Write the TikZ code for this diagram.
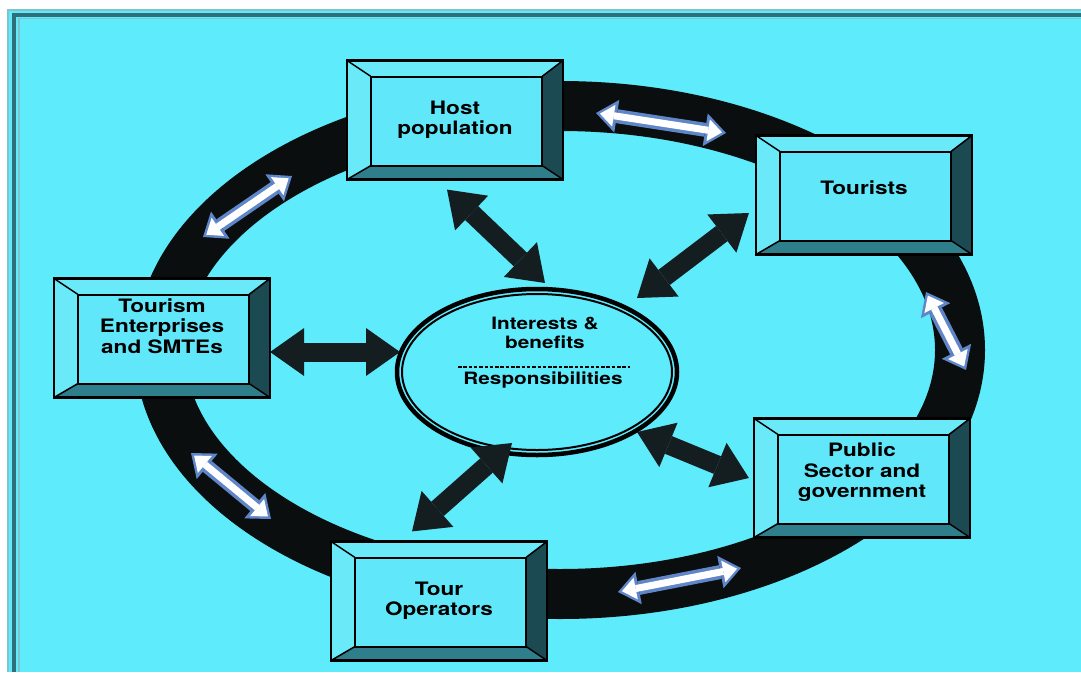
\documentclass[tikz,border=0pt]{standalone}
\usepackage{fontspec}
\usepackage{tikz}
\usetikzlibrary{arrows.meta,calc,positioning,shapes.geometric}

\newfontfamily\heros{TeX Gyre Heros}[FakeStretch=1.22]

\definecolor{skycyan}{HTML}{5EEBFC}
\definecolor{faceblue}{HTML}{60E8FA}
\definecolor{bevlight}{HTML}{6AEAF9}
\definecolor{bevdark}{HTML}{1C4A53}
\definecolor{bevmid}{HTML}{2E7F8B}
\definecolor{rimteal}{HTML}{2F6F7B}
\definecolor{rimpale}{HTML}{7FC3CD}
\definecolor{ringink}{HTML}{0A0E0F}
\definecolor{arrowink}{HTML}{141E20}
\definecolor{arrowrim}{HTML}{5F86C8}

\begin{document}
\begin{tikzpicture}[
    x=1pt, y=-1pt,
    font=\heros\bfseries,
    actor/.style={
        rectangle,
        draw=black,
        line width=2.2pt,
        fill=faceblue,
        minimum width=216pt,
        minimum height=119pt,
        inner sep=0pt,
        align=center,
        text=black,
        font=\heros\bfseries\fontsize{18.5}{20.5}\selectfont,
        path picture={
            \coordinate (nw) at (path picture bounding box.north west);
            \coordinate (ne) at (path picture bounding box.north east);
            \coordinate (se) at (path picture bounding box.south east);
            \coordinate (sw) at (path picture bounding box.south west);
            \coordinate (inw) at ($(nw)+(24,16)$);
            \coordinate (ine) at ($(ne)+(-21,16)$);
            \coordinate (ise) at ($(se)+(-21,-14)$);
            \coordinate (isw) at ($(sw)+(24,-14)$);
            \fill[bevlight] (nw) -- (ne) -- (ine) -- (inw) -- cycle;
            \fill[bevlight] (nw) -- (inw) -- (isw) -- (sw) -- cycle;
            \fill[bevdark] (ne) -- (se) -- (ise) -- (ine) -- cycle;
            \fill[bevmid] (sw) -- (se) -- (ise) -- (isw) -- cycle;
            \draw[line width=2pt] (inw) rectangle (ise);
            \draw[line width=1.5pt] (nw) -- (inw) (ne) -- (ine) (se) -- (ise) (sw) -- (isw);
        }
    },
    hub/.style={
        ellipse,
        draw=black,
        line width=4.5pt,
        fill=skycyan,
        minimum width=280pt,
        minimum height=166pt,
        path picture={
            \draw[line width=2pt] (path picture bounding box.center)
                ellipse [x radius=135pt, y radius=78pt];
        }
    },
    hubtext/.style={
        align=center,
        inner sep=0pt,
        font=\heros\bfseries\fontsize{17}{18.5}\selectfont
    },
    ringband/.style={
        ellipse,
        draw=ringink,
        line width=50pt,
        minimum width=800pt,
        minimum height=488pt,
        inner sep=0pt,
        outer sep=0pt
    },
    bigarrow/.style={
        draw=arrowink,
        line width=19pt,
        >={Triangle[length=34pt,width=48pt,line width=0pt]},
        <->
    },
    ringarrow/.style={
        draw=arrowrim,
        line width=14pt,
        >={Triangle[length=21pt,width=33pt,line width=0pt]},
        <->,
        postaction={
            draw=white,
            line width=7pt,
            shorten <=4pt,
            shorten >=4pt,
            >={Triangle[length=14pt,width=22pt,line width=0pt]},
            <->
        }
    }
  ]

\useasboundingbox (0,0) rectangle (1081,672);

% // background and frame
\fill[white] (0,0) rectangle (1081,672);
\fill[skycyan] (7,9) rectangle (1081,672);
\draw[rimpale, line width=2pt] (8,672) -- (8,10) -- (1081,10);
\draw[rimteal, line width=4pt] (14,672) -- (14,15) -- (1081,15);
\draw[rimpale, line width=1.5pt] (19,672) -- (19,18.5) -- (1081,18.5);

% // The Ring
\node[ringband] (ring) at (560,350) {};

\coordinate (ht1) at (596,113);
\coordinate (ht2) at (726,133);
\coordinate (sh1) at (203,237);
\coordinate (sh2) at (292,176);
\coordinate (tp1) at (926,292);
\coordinate (tp2) at (966,370);
\coordinate (po1) at (618,592);
\coordinate (po2) at (741,568);
\coordinate (os1) at (191,453);
\coordinate (os2) at (271,519);

\draw[ringarrow] (ht1) -- (ht2);
\draw[ringarrow] (sh1) -- (sh2);
\draw[ringarrow] (tp1) -- (tp2);
\draw[ringarrow] (po1) -- (po2);
\draw[ringarrow] (os1) -- (os2);

% // stakeholders
\node[actor] (host) at (455,120) {Host\\population};
\node[actor] (tour) at (864,195) {Tourists\\[-6.5pt]};
\node[actor] (smte) at (162,338) {Tourism\\Enterprises\\and SMTEs\\[3.5pt]};
\node[actor] (pub) at (862,478) {Public\\Sector and\\government\\[-5pt]};
\node[actor] (tops) at (439,601) {Tour\\Operators};

% // centre
\node[hub] (ctr) at (537,372) {};
\node[hubtext] (benef) at (545,333) {Interests \&\\benefits};
\node[hubtext] (resp) at (543,380) {Responsibilities};
\draw[line width=1.3pt, dash pattern=on 3.5pt off 1.8pt] (458,367) -- (630,367);

\draw[bigarrow] ($(host.south)+(-8,9)$) -- ($(ctr.center)+(8,-89)$);
\draw[bigarrow] ($(tour.west)+(-6,18)$) -- ($(ctr.center)+(100,-74)$);
\draw[bigarrow] ($(smte.east)+(-1,14)$) -- ($(ctr.center)+(-137,-20)$);
\draw[bigarrow] ($(pub.west)+(-4,0)$) -- ($(ctr.center)+(100,60)$);
\draw[bigarrow] ($(tops.north)+(-27,-9)$) -- ($(ctr.center)+(-25,71)$);

\end{tikzpicture}
\end{document}
